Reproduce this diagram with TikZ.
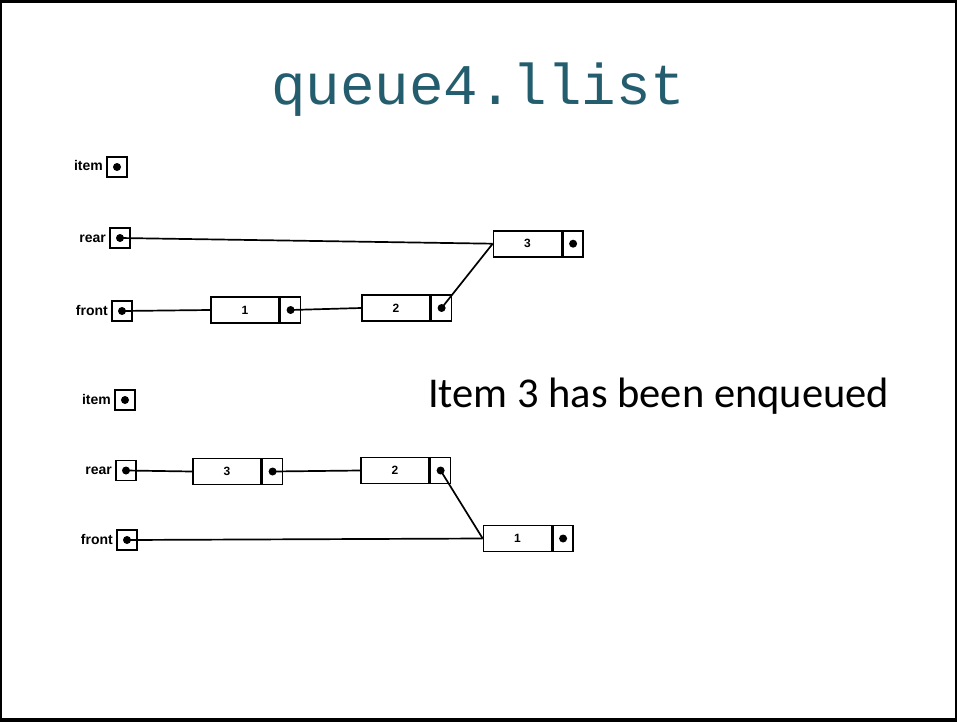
\documentclass[tikz,border=0pt]{standalone}
\usepackage{fontspec}
\setmainfont{Liberation Sans}
\newfontfamily\titlefont{Liberation Mono}
\newfontfamily\bodyfont{Carlito}
\definecolor{titleteal}{RGB}{36,94,110}
\begin{document}
\begin{tikzpicture}[x=1pt,y=-1pt,
  varbox/.style={draw,line width=1.8pt,minimum width=20pt,minimum height=20pt,inner sep=0pt},
  databox/.style={draw,line width=1.6pt,minimum width=68pt,minimum height=26pt,inner sep=0pt,font=\fontsize{12}{13}\selectfont\bfseries},
  ptrbox/.style={draw,line width=1.6pt,minimum width=20pt,minimum height=26pt,inner sep=0pt,anchor=west},
  varlabel/.style={anchor=base east,inner sep=0pt,font=\fontsize{14}{16}\selectfont\bfseries},
  link/.style={line width=1.7pt},
  dot/.style={circle,fill=black,inner sep=0pt,minimum size=8pt}]
% frame
\fill[black] (0,0) rectangle (957,722);
\fill[white] (2,3) rectangle (955,718);
\useasboundingbox (0,0) rectangle (957,722);
% title
\node[text=titleteal,font=\titlefont\fontsize{57.5}{60}\selectfont,anchor=base] (title) at (478.5,105) {queue4.llist};
% caption
\node[font=\bodyfont\fontsize{42.5}{48}\selectfont,anchor=base west,inner sep=0pt] (cap) at (428,407) {Item 3 has been enqueued};

% ---------- top diagram ----------
\node[varbox] (titem) at (117,167) {};
\node[varlabel] (titemL) at (103,171) {item};
\node[dot] (titemD) at (titem.center) {};
\node[varbox] (trear) at (120,238) {};
\node[varlabel] (trearL) at (106,242) {rear};
\node[dot] (trearD) at (trear.center) {};
\node[varbox] (tfront) at (122,311) {};
\node[varlabel] (tfrontL) at (108,315) {front};
\node[dot] (tfrontD) at (tfront.center) {};

\node[databox] (t1) at (245,310) {1};
\node[ptrbox] (t1p) at (t1.east) {};
\node[dot] (t1d) at (t1p.center) {};
\node[databox] (t2) at (396,308) {2};
\node[ptrbox] (t2p) at (t2.east) {};
\node[dot] (t2d) at (t2p.center) {};
\node[databox] (t3) at (527.5,243.7) {3};
\node[ptrbox] (t3p) at (t3.east) {};
\node[dot] (t3d) at (t3p.center) {};

\draw[link] (trearD.center) -- (t3.west);
\draw[link] (tfrontD.center) -- (t1.west);
\draw[link] (t1d.center) -- (t2.west);
\draw[link] (t2d.center) -- (t3.west);

% ---------- bottom diagram ----------
\node[varbox] (bitem) at (125,400) {};
\node[varlabel] (bitemL) at (111,404) {item};
\node[dot] (bitemD) at (bitem.center) {};
\node[varbox] (brear) at (126,470.5) {};
\node[varlabel] (brearL) at (112,474.5) {rear};
\node[dot] (brearD) at (brear.center) {};
\node[varbox] (bfront) at (127,540) {};
\node[varlabel] (bfrontL) at (113,544) {front};
\node[dot] (bfrontD) at (bfront.center) {};

\node[databox] (b3) at (227,471.5) {3};
\node[ptrbox] (b3p) at (b3.east) {};
\node[dot] (b3d) at (b3p.center) {};
\node[databox] (b2) at (395,470.5) {2};
\node[ptrbox] (b2p) at (b2.east) {};
\node[dot] (b2d) at (b2p.center) {};
\node[databox] (b1) at (517.5,538.5) {1};
\node[ptrbox] (b1p) at (b1.east) {};
\node[dot] (b1d) at (b1p.center) {};

\draw[link] (brearD.center) -- (b3.west);
\draw[link] (b3d.center) -- (b2.west);
\draw[link] (b2d.center) -- (b1.west);
\draw[link] (bfrontD.center) -- (b1.west);
\end{tikzpicture}
\end{document}
